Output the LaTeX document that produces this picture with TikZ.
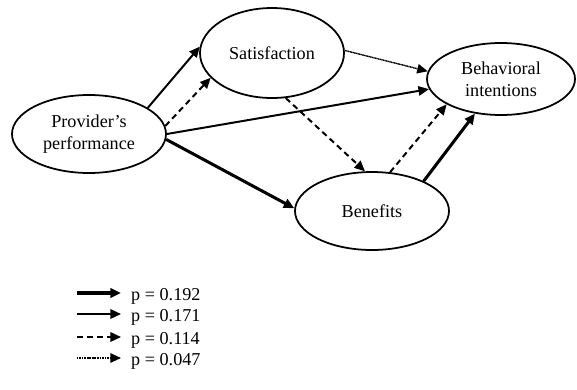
\documentclass[tikz,border=0pt]{standalone}
\usepackage{fontspec}
\setmainfont{Liberation Serif}
\usepackage{tikz}
\usetikzlibrary{shapes.geometric,arrows.meta}

\begin{document}
\begin{tikzpicture}[
  x=0.03cm, y=-0.03cm,
  var/.style={ellipse,draw,line width=1.5pt,inner sep=0pt,align=center,
    font=\fontsize{15.5}{19}\selectfont},
  arr/.style={-{Triangle[length=9pt,width=8pt]}},
  pbig/.style={arr,line width=2.6pt},
  pmid/.style={arr,line width=1.7pt},
  pdash/.style={arr,line width=1.7pt,dash pattern=on 5pt off 3.5pt},
  pfaint/.style={arr,line width=1.2pt,dash pattern=on 1pt off 0.4pt}
]
\useasboundingbox (0,0) rectangle (577,390);
%% ─── Constructs ─────────────────────────────────────────────────────────────
\node[var,minimum width=4.62cm,minimum height=2.34cm] (Prov) at ( 89,134)
  {Provider's\\performance};
\node[var,minimum width=4.32cm,minimum height=2.70cm] (Sat)  at (272, 53)
  {Satisfaction};
\node[var,minimum width=4.44cm,minimum height=2.16cm] (Beh)  at (501, 79)
  {Behavioral\\intentions};
\node[var,minimum width=4.62cm,minimum height=2.34cm] (Ben)  at (372,211)
  {Benefits};
%% ─── Paths ──────────────────────────────────────────────────────────────────
\draw[pmid]   (Prov.24) -- (Sat.175);
\draw[pdash]  (Prov.6)  -- (Sat.202);
\draw[pmid]   (Prov.0)  -- (Beh.188);
\draw[pbig]   (Prov.-4) -- (Ben.178);
\draw[pfaint] (Sat.2)   -- (Beh.174);
\draw[pdash]  (Sat.-73) -- (Ben.100);
\draw[pdash]  (Ben.65)  -- (Beh.205);
\draw[pbig]   (Ben.30)  -- (Beh.233);
%% ─── Legend ─────────────────────────────────────────────────────────────────
\foreach \s/\t/\y [count=\i] in {pbig/0.192/293,pmid/0.171/314,
                                  pdash/0.114/337,pfaint/0.047/358}{
  \coordinate (ls\i) at (77,\y);
  \coordinate (le\i) at (121,\y);
  \node[anchor=west,inner sep=0pt,font=\fontsize{15.5}{19}\selectfont] (lt\i)
    at (131,\y+3) {p = \t};
  \draw[\s] (ls\i) -- (le\i);
}
\end{tikzpicture}
\end{document}
